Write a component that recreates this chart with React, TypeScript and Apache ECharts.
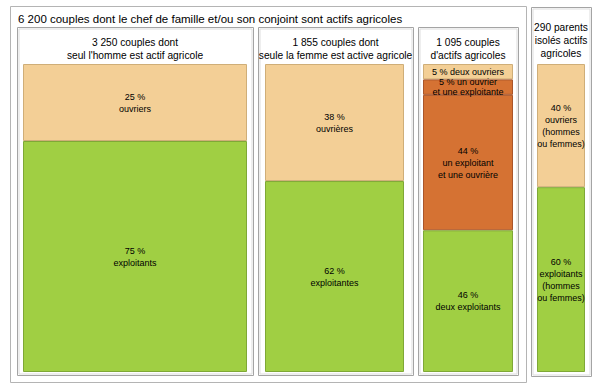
import React, { useEffect, useRef } from "react";
import * as echarts from "echarts";

const mainTitle = "6 200 couples dont le chef de famille et/ou son conjoint sont actifs agricoles";
const panelTitles = [
  "3 250 couples dont\nseul l'homme est actif agricole",
  "1 855 couples dont\nseule la femme est active agricole",
  "1 095 couples\nd'actifs agricoles",
  "290 parents\nisolés actifs\nagricoles",
];

const hommeValues = [25, 75];
const hommeLabels = ["ouvriers", "exploitants"];
const hommeKinds = ["ouvrier", "exploitant"];

const femmeValues = [38, 62];
const femmeLabels = ["ouvrières", "exploitantes"];
const femmeKinds = ["ouvrier", "exploitant"];

const coupleValues = [5, 5, 44, 46];
const coupleLabels = ["deux ouvriers", "un ouvrier\net une exploitante", "un exploitant\net une ouvrière", "deux exploitants"];
const coupleSeparators = [" ", " ", "\n", "\n"];
const coupleKinds = ["ouvrier", "mixte", "mixte", "exploitant"];

const isolesValues = [40, 60];
const isolesLabels = ["ouvriers\n(hommes\nou femmes)", "exploitants\n(hommes\nou femmes)"];
const isolesKinds = ["ouvrier", "exploitant"];

const FONT = "'Liberation Sans', Arial, Helvetica, sans-serif";

const colors: Record<string, { fill: string; border: string }> = {
  ouvrier: { fill: "#F3CF96", border: "#CFAE78" },
  mixte: { fill: "#D57233", border: "#A9552A" },
  exploitant: { fill: "#A0CF43", border: "#7FA836" },
};

// layout (pixels)
const barTop = 64;
const barHeight = 308;
const bars = [
  { left: 23, width: 224 },
  { left: 265, width: 139 },
  { left: 423, width: 90 },
  { left: 537, width: 48 },
];
const panels = [
  { x: 17, y: 27, w: 236, h: 348, ty: 48.5 },
  { x: 258, y: 27, w: 155, h: 348, ty: 48.5 },
  { x: 418, y: 27, w: 100, h: 348, ty: 48.5 },
  { x: 531, y: 7, w: 60, h: 369, ty: 40 },
];

export default function App() {
  const ref = useRef<HTMLDivElement>(null);
  useEffect(() => {
    if (!ref.current) return;
    const chart = echarts.init(ref.current, undefined, { renderer: "svg" });

    const groups = [
      { values: hommeValues, labels: hommeLabels, kinds: hommeKinds, seps: hommeValues.map(() => "\n") },
      { values: femmeValues, labels: femmeLabels, kinds: femmeKinds, seps: femmeValues.map(() => "\n") },
      { values: coupleValues, labels: coupleLabels, kinds: coupleKinds, seps: coupleSeparators },
      { values: isolesValues, labels: isolesLabels, kinds: isolesKinds, seps: isolesValues.map(() => "\n") },
    ];

    const grid = bars.map((b) => ({ left: b.left, top: barTop, width: b.width, height: barHeight }));
    const xAxis = bars.map((_, i) => ({ type: "category", gridIndex: i, data: ["a"], show: false }));
    const yAxis = bars.map((_, i) => ({ type: "value", gridIndex: i, min: 0, max: 100, inverse: true, show: false }));
    const series: any[] = [];
    groups.forEach((g, gi) => {
      g.values.forEach((v, si) => {
        const c = colors[g.kinds[si]];
        series.push({
          type: "bar",
          name: `${gi}-${si}`,
          xAxisIndex: gi,
          yAxisIndex: gi,
          stack: `s${gi}`,
          barWidth: "100%",
          data: [v],
          itemStyle: { color: c.fill, borderColor: c.border, borderWidth: 1 },
          label: {
            show: true,
            position: "inside",
            formatter: `${v} %${g.seps[si]}${g.labels[si]}`,
            fontFamily: FONT,
            fontSize: 9,
            lineHeight: gi === 2 && si < 2 ? 10 : 12,
            color: "#000",
            align: "center",
          },
        });
      });
    });

    const graphic: any[] = [];
    graphic.push({ type: "rect", shape: { x: 10.5, y: 6.5, width: 516, height: 376 }, style: { fill: "#fff", stroke: "#b4b4b4", lineWidth: 1 }, z: -10 });
    graphic.push({ type: "text", x: 18, y: 19, style: { text: mainTitle, font: `11.5px ${FONT}`, fill: "#000", verticalAlign: "middle", align: "left" } });
    panels.forEach((p, i) => {
      graphic.push({ type: "rect", shape: { x: p.x + 0.5, y: p.y + 0.5, width: p.w, height: p.h }, style: { fill: "#fff", stroke: "#a4a4a4", lineWidth: 1 }, z: -9 });
      graphic.push({ type: "rect", shape: { x: p.x + 2, y: p.y + 2, width: p.w - 3, height: p.h - 3 }, style: { fill: "none", stroke: "#dddddd", lineWidth: 1 }, z: -8 });
      graphic.push({
        type: "text",
        x: p.x + p.w / 2,
        y: p.ty,
        style: { text: panelTitles[i], font: `10.2px ${FONT}`, fill: "#000", align: "center", verticalAlign: "middle", lineHeight: 13 },
      });
    });

    chart.setOption({
      animation: false,
      backgroundColor: "#fff",
      grid,
      xAxis,
      yAxis,
      series,
      graphic,
    });
    return () => chart.dispose();
  }, []);
  return <div ref={ref} style={{ position: "absolute", left: 0, top: 0, width: 600, height: 389 }} />;
}
